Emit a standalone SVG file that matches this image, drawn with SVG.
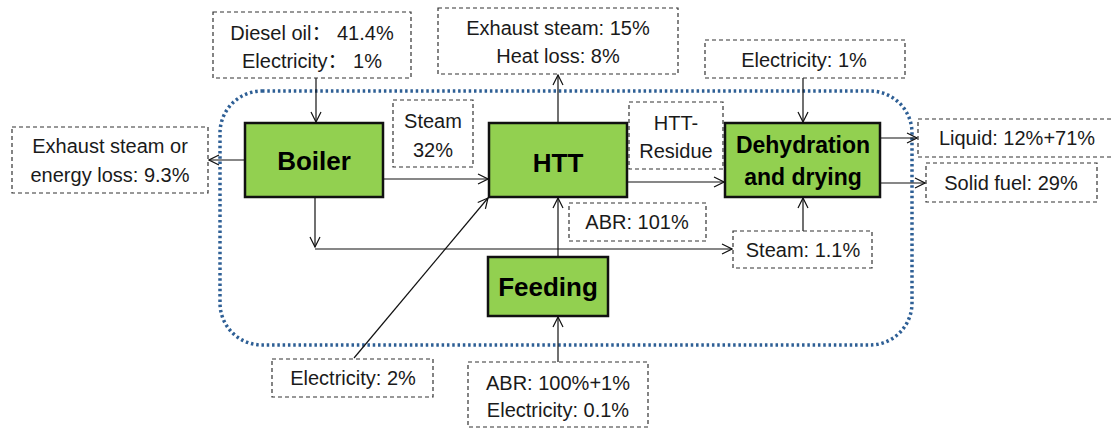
<svg xmlns="http://www.w3.org/2000/svg" width="1113" height="430" viewBox="0 0 1113 430">
<style>
.lbl{font-family:"Liberation Sans","Noto Sans CJK SC",sans-serif;font-size:20px;fill:#1a1a1a;text-anchor:middle}
.node{font-family:"Liberation Sans",sans-serif;font-weight:bold;font-size:26px;fill:#000;text-anchor:middle}
.node.sm{font-size:23px}
.box{fill:#fff;stroke:#333;stroke-width:1.2;stroke-dasharray:4 3}
.proc{fill:#92D050;stroke:#111;stroke-width:2.5}
.ln{fill:none;stroke:#111;stroke-width:1.2}
</style>
<defs>
<marker id="arr" viewBox="0 0 12 12" refX="11" refY="6" markerWidth="12" markerHeight="12" markerUnits="userSpaceOnUse" orient="auto">
<path d="M1,1 L11,6 L1,11" fill="none" stroke="#111" stroke-width="1.2"/>
</marker>
</defs>
<rect x="220" y="91" width="692" height="254" rx="42" ry="42" fill="none" stroke="#2E5F95" stroke-width="3.5" stroke-dasharray="2.5 2.8"/>
<g id="connectors">
<line class="ln" x1="316" y1="78" x2="316" y2="122" marker-end="url(#arr)"/>
<line class="ln" x1="245" y1="160" x2="209" y2="160" marker-end="url(#arr)"/>
<line class="ln" x1="383" y1="179" x2="488" y2="179" marker-end="url(#arr)"/>
<line class="ln" x1="315" y1="197" x2="315" y2="247" marker-end="url(#arr)"/>
<line class="ln" x1="315" y1="249" x2="732" y2="249" marker-end="url(#arr)"/>
<line class="ln" x1="354" y1="358" x2="488" y2="198" marker-end="url(#arr)"/>
<line class="ln" x1="558" y1="123" x2="558" y2="75" marker-end="url(#arr)"/>
<line class="ln" x1="558" y1="257" x2="558" y2="198" stroke-width="2.2" marker-end="url(#arr)"/>
<line class="ln" x1="558" y1="362" x2="558" y2="317" marker-end="url(#arr)"/>
<line class="ln" x1="627" y1="182" x2="724" y2="182" marker-end="url(#arr)"/>
<line class="ln" x1="803" y1="78" x2="803" y2="122" marker-end="url(#arr)"/>
<line class="ln" x1="803" y1="231" x2="803" y2="198" marker-end="url(#arr)"/>
<line class="ln" x1="880" y1="138" x2="917" y2="138" marker-end="url(#arr)"/>
<line class="ln" x1="880" y1="183" x2="925" y2="183" marker-end="url(#arr)"/>
</g>
<g id="boiler"><rect class="proc" x="245" y="123" width="138" height="74"/><text class="node" x="314" y="170">Boiler</text></g>
<g id="htt"><rect class="proc" x="489" y="123" width="138" height="74"/><text class="node" x="558" y="172">HTT</text></g>
<g id="dehydration"><rect class="proc" x="725" y="123" width="155" height="74"/><text class="node sm" x="803" y="153">Dehydration</text><text class="node sm" x="803" y="185">and drying</text></g>
<g id="feeding"><rect class="proc" x="488" y="257" width="120" height="59"/><text class="node" x="548" y="296">Feeding</text></g>
<g id="diesel"><rect class="box" x="213" y="12" width="198" height="66"/><text class="lbl" x="312" y="40">Diesel oil：  41.4%</text><text class="lbl" x="312" y="68">Electricity：  1%</text></g>
<g id="exhaust-loss"><rect class="box" x="12" y="127" width="196" height="66"/><text class="lbl" x="110" y="153">Exhaust steam or</text><text class="lbl" x="110" y="182">energy loss: 9.3%</text></g>
<g id="steam32"><rect class="box" x="393" y="100" width="80" height="67"/><text class="lbl" x="433" y="128">Steam</text><text class="lbl" x="433" y="157">32%</text></g>
<g id="exhaust15"><rect class="box" x="438" y="8" width="240" height="66"/><text class="lbl" x="558" y="35">Exhaust steam: 15%</text><text class="lbl" x="558" y="63">Heat loss: 8%</text></g>
<g id="htt-residue"><rect class="box" x="629" y="102" width="94" height="67"/><text class="lbl" x="676" y="130">HTT-</text><text class="lbl" x="676" y="158">Residue</text></g>
<g id="elec1"><rect class="box" x="705" y="40" width="200" height="38"/><text class="lbl" x="804" y="67">Electricity: 1%</text></g>
<g id="liquid"><rect class="box" x="918" y="119" width="200" height="38"/><text class="lbl" x="1017" y="145">Liquid: 12%+71%</text></g>
<g id="solid"><rect class="box" x="926" y="163" width="171" height="39"/><text class="lbl" x="1011" y="190">Solid fuel: 29%</text></g>
<g id="abr101"><rect class="box" x="569" y="203" width="137" height="38"/><text class="lbl" x="637" y="229">ABR: 101%</text></g>
<g id="steam11"><rect class="box" x="733" y="231" width="139" height="37"/><text class="lbl" x="803" y="257">Steam: 1.1%</text></g>
<g id="elec2"><rect class="box" x="272" y="359" width="161" height="38"/><text class="lbl" x="353" y="385">Electricity: 2%</text></g>
<g id="abr-in"><rect class="box" x="468" y="362" width="180" height="65"/><text class="lbl" x="558" y="390">ABR: 100%+1%</text><text class="lbl" x="558" y="417">Electricity: 0.1%</text></g>
</svg>
